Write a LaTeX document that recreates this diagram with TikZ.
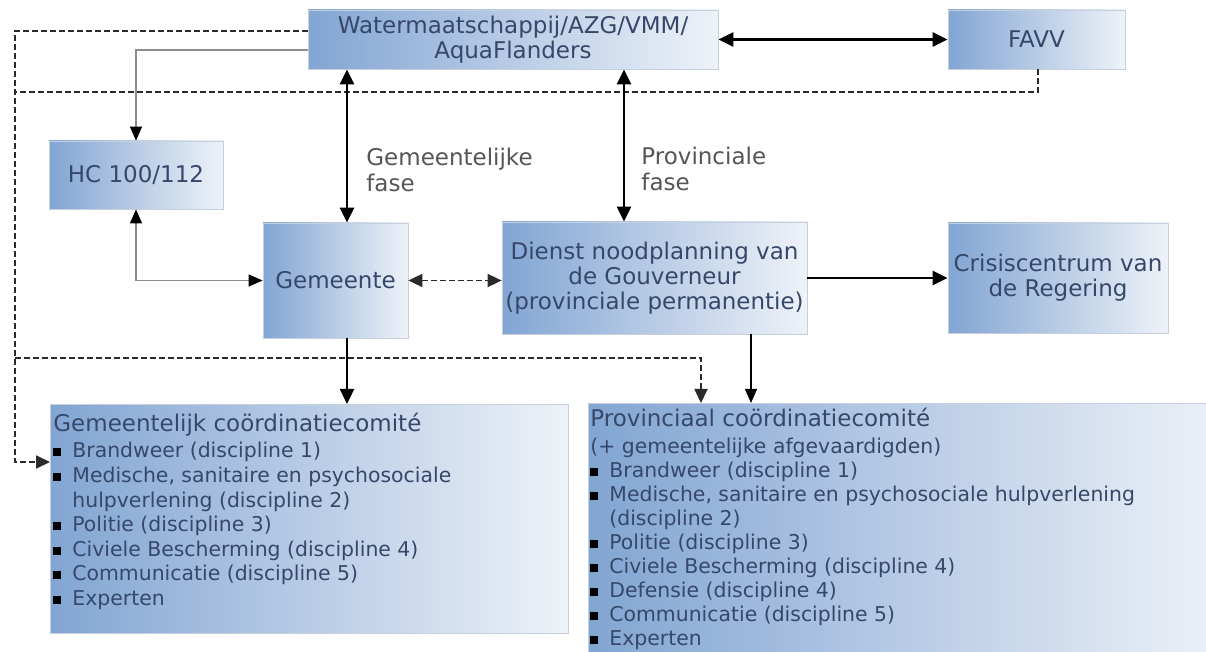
\documentclass[tikz,border=0pt]{standalone}
\usepackage{fontspec}
\setmainfont{DejaVu Sans}
\usetikzlibrary{arrows.meta, positioning, calc}
\definecolor{boxleft}{HTML}{82A5D3}
\definecolor{boxright}{HTML}{EEF2F8}
\definecolor{boxedge}{HTML}{C6D0DD}
\definecolor{boxtext}{HTML}{36486A}
\definecolor{fasetext}{HTML}{555555}
\definecolor{thinline}{HTML}{8C8C8C}
\definecolor{dashline}{HTML}{2A2A2A}

\newcommand{\itm}{\makebox[9.5pt][l]{\textcolor{black}{\rule[0.8pt]{4pt}{4pt}}}}

\begin{document}
\begin{tikzpicture}[
    x=0.5pt, y=-0.5pt,
    box/.style={rectangle, draw=boxedge, left color=boxleft, right color=boxright,
                align=center, text=boxtext, inner sep=0pt,
                font=\fontsize{11.5}{12.5}\selectfont},
    listbox/.style={rectangle, draw=boxedge, left color=boxleft, right color=boxright,
                inner sep=0pt},
    listtext/.style={align=left, text=boxtext, inner sep=0pt,
                font=\fontsize{10.2}{12.3}\selectfont},
    fase/.style={align=left, text=fasetext, inner sep=0pt,
                font=\fontsize{11.5}{13}\selectfont},
    both/.style={{Triangle[length=7.5pt, width=7pt]}-{Triangle[length=7.5pt, width=7pt]},
                line width=1.2pt, black},
    one/.style={-{Triangle[length=7.5pt, width=7pt]}, line width=1.2pt, black},
    thinone/.style={-{Triangle[length=7pt, width=6pt]}, line width=0.6pt, black},
    grayone/.style={-{Triangle[length=7pt, width=6pt, color=black]}, line width=0.6pt, thinline},
    grayboth/.style={{Triangle[length=7pt, width=6pt, color=black]}-{Triangle[length=7pt, width=6pt, color=black]},
                line width=0.6pt, thinline},
    dashed line/.style={dash pattern=on 3pt off 1.5pt, line width=0.9pt, dashline},
    dashone/.style={dashed line, -{Triangle[length=7pt, width=6.5pt]}},
    dashboth/.style={dashed line, {Triangle[length=7pt, width=6.5pt]}-{Triangle[length=7pt, width=6.5pt]}}
]
\useasboundingbox (0,0) rectangle (1206,652);
\fill[white] (0,0) rectangle (1206,652);

% Top row
\node[box, minimum width=205pt, minimum height=29.5pt] (water) at (513,39.5) {Watermaatschappij/AZG/VMM/\\AquaFlanders};
\node[box, minimum width=88.5pt, minimum height=29.5pt] (favv) at (1036.5,39.5) {FAVV};

% Middle row
\node[box, minimum width=87pt, minimum height=34pt] (hc) at (136,175) {HC 100/112};
\node[box, minimum width=72.5pt, minimum height=57.5pt] (gemeente) at (335.5,280.5) {Gemeente};
\node[box, minimum width=152.5pt, minimum height=56pt] (dienst) at (654.5,278) {Dienst noodplanning van\\de Gouverneur\\(provinciale permanentie)};
\node[box, minimum width=110pt, minimum height=55pt] (crisis) at (1058,278) {Crisiscentrum van\\de Regering};

% Phase labels
\node[fase, anchor=west] (gemfase) at (366,170) {Gemeentelijke\\fase};
\node[fase, anchor=west] (provfase) at (641,168.5) {Provinciale\\fase};

% Committees
\node[listbox, minimum width=259pt, minimum height=114.5pt, anchor=north west] (gemcom) at (50,404) {};
\node[listbox, minimum width=320pt, minimum height=135pt, anchor=north west] (provcom) at (588,403) {};
\node[listtext, anchor=north west] (gemlist) at (53,413) {%
    {\fontsize{11.5}{12.3}\selectfont Gemeentelijk coördinatiecomité}\\[0.8pt]
    \itm Brandweer (discipline 1)\\
    \itm Medische, sanitaire en psychosociale\\
    \hspace*{9.5pt}hulpverlening (discipline 2)\\
    \itm Politie (discipline 3)\\
    \itm Civiele Bescherming (discipline 4)\\
    \itm Communicatie (discipline 5)\\
    \itm Experten};
\node[listtext, anchor=north west, font=\fontsize{10.2}{12}\selectfont] (provlist) at (590,408) {%
    {\fontsize{11.5}{12}\selectfont Provinciaal coördinatiecomité}\\[1.5pt]
    (+ gemeentelijke afgevaardigden)\\
    \itm Brandweer (discipline 1)\\
    \itm Medische, sanitaire en psychosociale hulpverlening\\
    \hspace*{9.5pt}(discipline 2)\\
    \itm Politie (discipline 3)\\
    \itm Civiele Bescherming (discipline 4)\\
    \itm Defensie (discipline 4)\\
    \itm Communicatie (discipline 5)\\
    \itm Experten};

% Join points of the dashed lines
\coordinate (favvjoin) at (15,92);
\coordinate (provjoin) at (15,358);

% Dashed lines
\draw[dashone] (water.west |- 0,31) -| (15,462) -- (gemcom.west |- 0,462);
\draw[dashed line] (1038,0 |- favv.south) |- (favvjoin);
\draw[dashone] (provjoin) -| (701,0 |- provcom.north);

% Arrows
\draw[both] (water.east) -- (favv.west);
\draw[both] (347,0 |- water.south) -- (347,0 |- gemeente.north);
\draw[both] (624,0 |- water.south) -- (624,0 |- dienst.north);
\draw[grayone] (water.west |- 0,50) -| (hc.north);
\draw[grayboth] (hc.south) |- (gemeente.west);
\draw[dashboth] (gemeente.east) -- (gemeente.east -| dienst.west);
\draw[one] (dienst.east) -- (crisis.west);
\draw[one] (347,0 |- gemeente.south) -- (347,0 |- gemcom.north);
\draw[thinone] (751,0 |- dienst.south) -- (751,0 |- provcom.north);

\end{tikzpicture}
\end{document}
